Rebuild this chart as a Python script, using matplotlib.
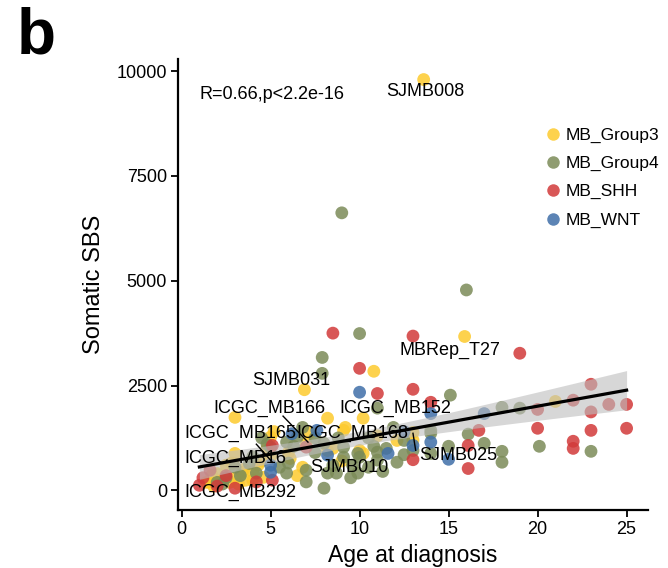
import numpy as np
import matplotlib
matplotlib.use("Agg")
import matplotlib.pyplot as plt
from matplotlib.lines import Line2D

plt.rcParams['font.family'] = ['Liberation Sans', 'DejaVu Sans']

# Age at diagnosis / somatic SBS per subgroup
g3_age = [13.6, 15.9, 10.8, 6.9, 3.0, 8.2, 10.2, 9.1, 5.0, 5.2, 7.0, 10.0, 6.8, 3.0, 3.0,
          4.0, 12.1, 13.0, 21.0, 2.0, 2.5, 1.5, 3.5, 4.5, 1.8, 2.2, 3.2, 4.0, 5.0, 6.0,
          7.2, 8.5, 11.0, 9.0, 6.5, 2.8, 4.8, 2.9, 3.4, 3.6, 4.3, 1.7, 1.4, 2.7, 4.6,
          9.2, 8.2, 6.1, 10.2, 13.0]
g3_sbs = [9800, 3670, 2840, 2400, 1740, 1720, 1720, 1430, 1270, 1400, 1120, 950, 550, 880, 290,
          240, 1190, 1380, 2120, 400, 600, 200, 500, 700, 100, 250, 150, 450, 800, 900,
          1380, 1000, 1300, 700, 350, 650, 1000, 640, 430, 240, 600, 360, 190, 190, 310,
          1500, 950, 760, 880, 1200]

g4_age = [9.0, 16.0, 10.0, 7.9, 7.9, 15.1, 11.0, 18.0, 19.0, 16.1, 17.0, 15.0, 18.0, 18.0,
          20.1, 23.0, 14.0, 14.0, 8.0, 5.0, 5.9, 6.5, 8.0, 9.1, 9.9, 9.1, 11.0, 12.1, 8.7,
          9.9, 8.2, 7.0, 5.9, 4.2, 3.8, 11.0, 10.0, 12.5, 11.9, 14.0, 2.0, 2.5, 3.0, 4.0,
          6.0, 7.5, 8.5, 10.5, 11.5, 12.5, 7.0, 9.5, 6.3, 5.5, 10.5, 13.0, 7.5, 8.8, 4.5,
          6.8, 3.3, 2.3, 4.8, 9.6, 10.8, 11.3]
g4_sbs = [6620, 4780, 3740, 3170, 2790, 2270, 1960, 1980, 1960, 1340, 1120, 1050, 930, 670,
          1050, 930, 1430, 880, 50, 1030, 1150, 1270, 1120, 1030, 880, 790, 910, 670, 410,
          410, 410, 480, 410, 410, 640, 720, 790, 1190, 1500, 1360, 190, 300, 550, 800,
          650, 900, 600, 550, 1000, 850, 200, 300, 1050, 550, 1250, 950, 1250, 1250, 1250,
          1500, 350, 150, 1100, 600, 1050, 450]

shh_age = [8.5, 13.0, 10.0, 11.0, 13.0, 14.0, 13.0, 19.0, 23.0, 22.0, 24.0, 25.0, 20.0, 23.0,
           16.7, 20.0, 23.0, 25.0, 22.0, 22.0, 16.1, 16.1, 1.0, 5.1, 5.1, 1.6, 7.0, 2.0, 1.2,
           4.2, 3.0, 2.5]
shh_sbs = [3750, 3680, 2910, 2310, 2410, 2100, 730, 3270, 2530, 2150, 2050, 2050, 1930, 1870,
           1430, 1480, 1430, 1480, 1170, 1000, 1070, 520, 120, 240, 1070, 480, 1030, 100, 300,
           200, 50, 350]

wnt_age = [14.0, 17.0, 14.0, 13.0, 15.0, 10.0, 7.6, 11.6, 8.2, 5.0, 5.0, 12.5, 6.2]
wnt_sbs = [1830, 1830, 1150, 1070, 740, 2340, 1430, 880, 840, 430, 600, 1400, 1350]

groups = ['MB_Group3', 'MB_Group4', 'MB_SHH', 'MB_WNT']
colors = ['#FDCA2E', '#7B8B58', '#D23A3A', '#3F6FA8']

# labelled samples: name, text position, leader lines
labels = ['SJMB008', 'MBRep_T27', 'SJMB031', 'ICGC_MB166', 'ICGC_MB152', 'ICGC_MB165',
          'ICGC_MB168', 'ICGC_MB16', 'SJMB010', 'SJMB025', 'ICGC_MB292']
label_x = [13.7, 15.1, 6.15, 4.96, 12.0, 3.33, 9.6, 3.0, 9.4, 15.55, 3.33]
label_y = [9520, 3340, 2625, 1957, 1957, 1360, 1360, 764, 550, 835, -48]
leaders = [((5.7, 1770), (7.1, 1150)), ((4.2, 1100), (5.1, 670)), ((13.0, 1360), (13.15, 955))]

fig = plt.figure(figsize=(6.68, 5.68), dpi=100)
ax = fig.add_axes([0.2665, 0.1021, 0.7035, 0.7940])

data = [(g3_age, g3_sbs), (g4_age, g4_sbs), (shh_age, shh_sbs), (wnt_age, wnt_sbs)]
for (ages, sbs), name, c in zip(data, groups, colors):
    ax.scatter(ages, sbs, s=85, color=c, alpha=0.85, edgecolors='none', label=name, zorder=2)

# linear fit with 95% band
x_all = np.concatenate([np.array(a) for a, _ in data])
y_all = np.concatenate([np.array(b) for _, b in data])
slope, icpt = np.polyfit(x_all, y_all, 1)
n = len(x_all)
resid = y_all - (slope * x_all + icpt)
s = np.sqrt(np.sum(resid ** 2) / (n - 2))
xm = x_all.mean()
sxx = np.sum((x_all - xm) ** 2)
xs = np.linspace(x_all.min(), x_all.max(), 100)
fit = slope * xs + icpt
se = s * np.sqrt(1 / n + (xs - xm) ** 2 / sxx)
ax.fill_between(xs, fit - 1.97 * se, fit + 1.97 * se, color='#BDBDBD', alpha=0.6, lw=0, zorder=3)
ax.plot(xs, fit, color='black', lw=2.3, zorder=4)

for name, tx, ty in zip(labels, label_x, label_y):
    ax.text(tx, ty, name, ha='center', va='center', fontsize=13, zorder=5)
for (x0, y0), (x1, y1) in leaders:
    ax.plot([x0, x1], [y0, y1], color='black', lw=1, zorder=5)

ax.text(1.0, 9450, 'R=0.66,p<2.2e-16', ha='left', va='center', fontsize=13)

ax.set_xlim(-0.2, 26.2)
ax.set_ylim(-470, 10290)
ax.set_xticks([0, 5, 10, 15, 20, 25])
ax.set_yticks([0, 2500, 5000, 7500, 10000])
ax.tick_params(labelsize=13, length=5, width=1.3, colors='black', pad=3)
ax.spines['top'].set_visible(False)
ax.spines['right'].set_visible(False)
ax.spines['left'].set_linewidth(1.6)
ax.spines['bottom'].set_linewidth(1.6)
ax.set_xlabel('Age at diagnosis', fontsize=16.5, labelpad=4)
ax.set_ylabel('Somatic SBS', fontsize=17, labelpad=8)

handles = [Line2D([], [], marker='o', ls='none', markersize=9, color=c, alpha=0.85,
                  markeredgewidth=0) for c in colors]
ax.legend(handles, groups, loc='upper left', bbox_to_anchor=(0.783, 0.848), frameon=False,
          fontsize=12.5, handletextpad=0.35, labelspacing=0.75, handlelength=0.8,
          borderpad=0, borderaxespad=0)

fig.text(0.025, 0.988, 'b', fontsize=46, fontweight='bold', va='top', ha='left')

fig.savefig('out.png', dpi=100)
